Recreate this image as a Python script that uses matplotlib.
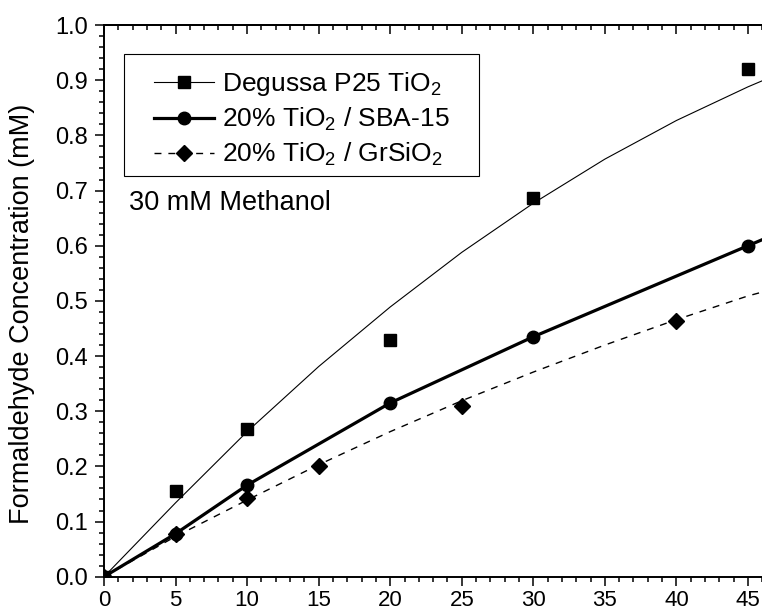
import matplotlib
matplotlib.use("Agg")
import matplotlib.pyplot as plt
from matplotlib.lines import Line2D
from matplotlib.patches import Rectangle
from matplotlib.ticker import MultipleLocator, FormatStrFormatter

plt.rcParams['font.family'] = ['Liberation Sans', 'DejaVu Sans']
plt.rcParams['mathtext.fontset'] = 'custom'
plt.rcParams['mathtext.rm'] = 'Liberation Sans'
plt.rcParams['mathtext.it'] = 'Liberation Sans:italic'
plt.rcParams['mathtext.default'] = 'regular'

# measured HCHO concentration (mM) vs irradiation time (min)
p25_t = [0, 5, 10, 20, 30, 45]
p25_c = [0, 0.156, 0.267, 0.429, 0.687, 0.920]
sba_t = [0, 5, 10, 20, 30, 45]
sba_c = [0, 0.078, 0.166, 0.315, 0.435, 0.600]
gr_t = [0, 5, 10, 15, 25, 40]
gr_c = [0, 0.078, 0.142, 0.201, 0.309, 0.464]

# fitted curves, sampled every 5 min up to the edge of the plot
fit_t = [0, 5, 10, 15, 20, 25, 30, 35, 40, 45, 46]
p25_fit = [0, 0.134, 0.263, 0.381, 0.489, 0.588, 0.677, 0.757, 0.827, 0.888, 0.899]
gr_fit = [0, 0.073, 0.139, 0.203, 0.263, 0.319, 0.371, 0.420, 0.466, 0.509, 0.516]
# SBA-15 trace goes through its points and carries on past the last one
sba_line_t = [0, 5, 10, 20, 30, 45, 46]
sba_line_c = [0, 0.078, 0.166, 0.315, 0.435, 0.600, 0.611]

xticks = [0, 5, 10, 15, 20, 25, 30, 35, 40, 45]
labels = ['Degussa P25 TiO$_2$', '20% TiO$_2$ / SBA-15', '20% TiO$_2$ / GrSiO$_2$']

W, H = 762, 614
fig = plt.figure(figsize=(W / 100, H / 100), dpi=100)
# x range runs to 50, the right part falls off the page
ax = fig.add_axes([0.1365, 0.0607, 0.939, 0.8985])

dash = (0, (5, 5))
ax.plot(fit_t, p25_fit, color='k', lw=0.8)
ax.plot(sba_line_t, sba_line_c, color='k', lw=2.3)
ax.plot(fit_t, gr_fit, color='k', lw=1.0, ls=dash)
ax.plot(p25_t, p25_c, ls='none', marker='s', ms=8, color='k')
ax.plot(sba_t, sba_c, ls='none', marker='o', ms=9, color='k')
ax.plot(gr_t, gr_c, ls='none', marker='D', ms=8.5, color='k')

ax.set_xlim(0, 50)
ax.set_ylim(0, 1.0)
ax.set_xticks(xticks)
ax.xaxis.set_minor_locator(MultipleLocator(1))
ax.yaxis.set_major_locator(MultipleLocator(0.1))
ax.yaxis.set_minor_locator(MultipleLocator(0.02))
ax.yaxis.set_major_formatter(FormatStrFormatter('%.1f'))

for s in ax.spines.values():
    s.set_linewidth(1.4)
ax.spines['right'].set_visible(False)

ax.tick_params(which='both', direction='out', width=1.1, top=False, right=False)
ax.tick_params(which='major', length=6.5)
ax.tick_params(which='minor', length=3.3)
ax.tick_params(axis='y', pad=5, labelsize=17)
ax.tick_params(axis='x', pad=3, labelsize=16)

# top axis: ticks pointing into the plot, no labels
top = ax.secondary_xaxis('top')
top.xaxis.set_major_locator(MultipleLocator(5))
top.xaxis.set_minor_locator(MultipleLocator(1))
top.tick_params(which='both', direction='in', width=1.1, labeltop=False)
top.tick_params(which='major', length=6.5)
top.tick_params(which='minor', length=3.3)
top.spines['top'].set_linewidth(1.4)

handles = [
    Line2D([], [], color='k', lw=0.8, marker='s', ms=8),
    Line2D([], [], color='k', lw=2.3, marker='o', ms=9),
    Line2D([], [], color='k', lw=1.0, ls=dash, marker='D', ms=8.5),
]
# legend box: wider padding left/right than top/bottom
pad_x, pad_top, pad_bot = 30, 16, 8
box_x, box_y = 124, 54
leg = ax.legend(handles, labels, loc='upper left',
                bbox_to_anchor=((box_x + pad_x) / W, 1 - (box_y + pad_top) / H),
                bbox_transform=fig.transFigure, borderaxespad=0, borderpad=0,
                fontsize=19, frameon=False, handlelength=2.27,
                handletextpad=0.3, labelspacing=0.3)

fig.canvas.draw()
bb = leg.get_window_extent()
frame = Rectangle(((bb.x0 - pad_x) / W, (bb.y0 - pad_bot) / H),
                  (bb.width + 2 * pad_x) / W, (bb.height + pad_top + pad_bot) / H,
                  transform=fig.transFigure, facecolor='white', edgecolor='k',
                  lw=0.8, zorder=4.9, clip_on=False)
ax.add_patch(frame)

ax.text(1.75, 0.677, '30 mM Methanol', fontsize=19.5, ha='left', va='center')

ax.set_ylabel('Formaldehyde Concentration (mM)', fontsize=19.5)
ax.yaxis.set_label_coords(-0.0964, 0.476)

fig.savefig('out.png', dpi=100)
